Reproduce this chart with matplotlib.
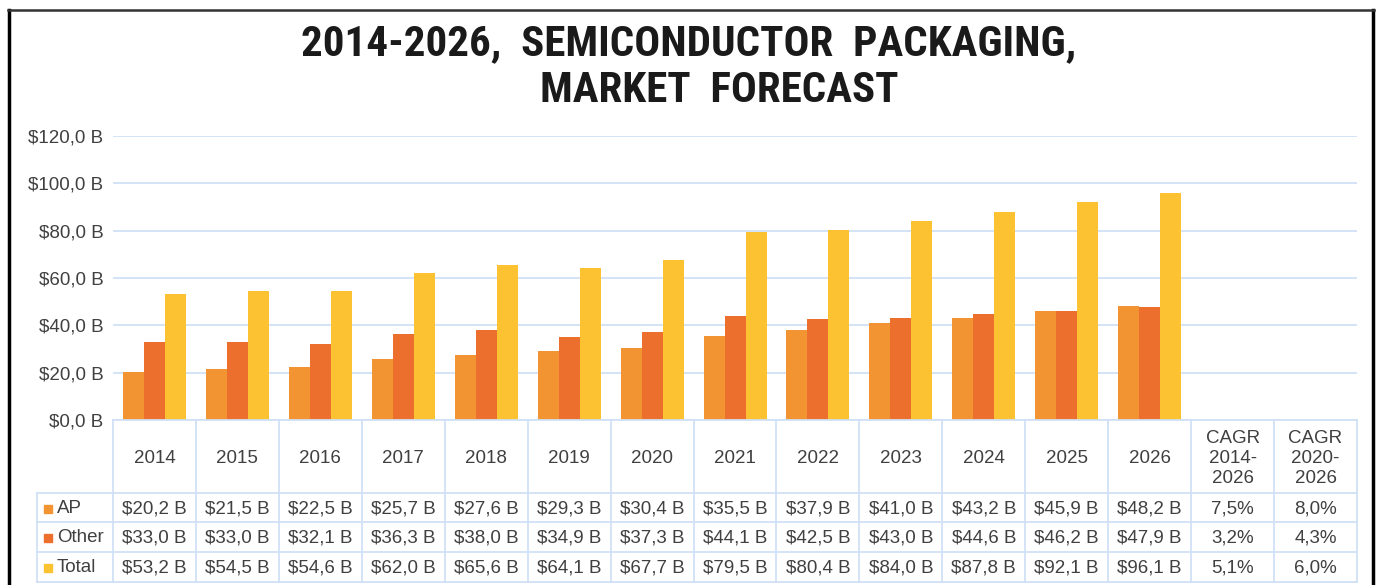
import matplotlib
matplotlib.use("Agg")
import matplotlib.pyplot as plt
import numpy as np
from matplotlib.lines import Line2D

# ---------------- data ----------------
years = ["2014", "2015", "2016", "2017", "2018", "2019", "2020",
         "2021", "2022", "2023", "2024", "2025", "2026"]
cagr_headers = ["CAGR\n2014-\n2026", "CAGR\n2020-\n2026"]
series_names = ["AP", "Other", "Total"]
ap = [20.2, 21.5, 22.5, 25.7, 27.6, 29.3, 30.4, 35.5, 37.9, 41.0, 43.2, 45.9, 48.2]
other = [33.0, 33.0, 32.1, 36.3, 38.0, 34.9, 37.3, 44.1, 42.5, 43.0, 44.6, 46.2, 47.9]
total = [53.2, 54.5, 54.6, 62.0, 65.6, 64.1, 67.7, 79.5, 80.4, 84.0, 87.8, 92.1, 96.1]
cagr_ap = ["7,5%", "8,0%"]
cagr_other = ["3,2%", "4,3%"]
cagr_total = ["5,1%", "6,0%"]
yticks = [0, 20, 40, 60, 80, 100, 120]
title_line1 = "2014-2026,  SEMICONDUCTOR  PACKAGING,"
title_line2 = "MARKET  FORECAST"

colors = ["#F39433", "#EC6F2D", "#FDC232"]
grid_c = "#D0E0F6"
text_c = "#404040"
FONT = ["Liberation Sans", "DejaVu Sans"]

def money(v):
    return ("$%.1f B" % v).replace(".", ",")

W, H = 1377, 585
fig = plt.figure(figsize=(W / 100, H / 100), dpi=100)
fig.patch.set_facecolor("white")

# plot area
L, R, T, B = 113, 1357, 136, 420
ax = fig.add_axes([L / W, 1 - B / H, (R - L) / W, (B - T) / H])
ncols = len(years) + len(cagr_headers)
colw = (R - L) / ncols
bw = 21 / colw
x = np.arange(len(years))
for i, (vals, c) in enumerate(zip([ap, other, total], colors)):
    ax.bar(x + (i - 1) * bw, vals, bw, color=c, zorder=3, linewidth=0)
ax.set_xlim(-0.5, ncols - 0.5)
ax.set_ylim(0, 120)
ax.set_yticks(yticks)
ax.set_yticklabels([money(v) for v in yticks], fontsize=13.5, color=text_c, family=FONT)
ax.set_xticks([])
ax.tick_params(axis="y", length=0, pad=7)
ax.yaxis.grid(True, color=grid_c, lw=1.3, zorder=0)
ax.set_axisbelow(True)
for s in ax.spines.values():
    s.set_visible(False)

# data table
TL, TB = 37, 582
tax = fig.add_axes([TL / W, 1 - TB / H, (R - TL) / W, (TB - B) / H])
xl = -0.5 - (L - TL) / colw
tax.set_xlim(xl, ncols - 0.5)
tax.set_ylim(TB, B)
tax.axis("off")
rows_y = [420, 493, 522, 552, 582]
lc = dict(color=grid_c, lw=1.3, clip_on=False)
for k in range(ncols + 1):
    tax.plot([k - 0.5, k - 0.5], [B, TB], **lc)
tax.plot([xl, xl], [493, TB], **lc)
tax.plot([-0.5, ncols - 0.5], [B, B], **lc)
for yy in rows_y[1:]:
    tax.plot([xl, ncols - 0.5], [yy, yy], **lc)

fs = 13.5
hdr_y = (420 + 493) / 2 + 2
for i, yr in enumerate(years):
    tax.text(i, hdr_y, yr, ha="center", va="center", fontsize=fs, color=text_c, family=FONT)
for j, h in enumerate(cagr_headers):
    tax.text(len(years) + j, hdr_y, h, ha="center", va="center", fontsize=fs,
             color=text_c, family=FONT, linespacing=1.22)

row_vals = [ap, other, total]
row_cagr = [cagr_ap, cagr_other, cagr_total]
for r in range(3):
    yc = (rows_y[r + 1] + rows_y[r + 2]) / 2 + 1
    for i, v in enumerate(row_vals[r]):
        tax.text(i, yc, money(v), ha="center", va="center", fontsize=fs, color=text_c, family=FONT)
    for j, cv in enumerate(row_cagr[r]):
        tax.text(len(years) + j, yc, cv, ha="center", va="center", fontsize=fs, color=text_c, family=FONT)
    tax.plot([xl + (48 - TL) / colw], [yc], marker="s", ms=6, color=colors[r],
             linestyle="none", clip_on=False)
    tax.text(xl + (57 - TL) / colw, yc, series_names[r], ha="left", va="center",
             fontsize=fs, color=text_c, family=FONT)

# title
TFONT = ["Roboto Condensed", "Liberation Sans Narrow", "Liberation Sans", "DejaVu Sans"]
fig.text(689 / W, 1 - 44 / H, title_line1, ha="center", va="center", fontsize=31,
         fontweight="bold", family=TFONT, color="#1A1A1A")
fig.text(719 / W, 1 - 90 / H, title_line2, ha="center", va="center", fontsize=31,
         fontweight="bold", family=TFONT, color="#1A1A1A")

# border
fig.add_artist(Line2D([9 / W, 9 / W], [0, 1 - 10 / H], color="black", lw=2.5, transform=fig.transFigure))
fig.add_artist(Line2D([1373 / W, 1373 / W], [0, 1 - 10 / H], color="black", lw=2.5, transform=fig.transFigure))
fig.add_artist(Line2D([8 / W, 1374 / W], [1 - 10 / H, 1 - 10 / H], color="#333333", lw=1.8, transform=fig.transFigure))

fig.savefig("out.png", dpi=100)
